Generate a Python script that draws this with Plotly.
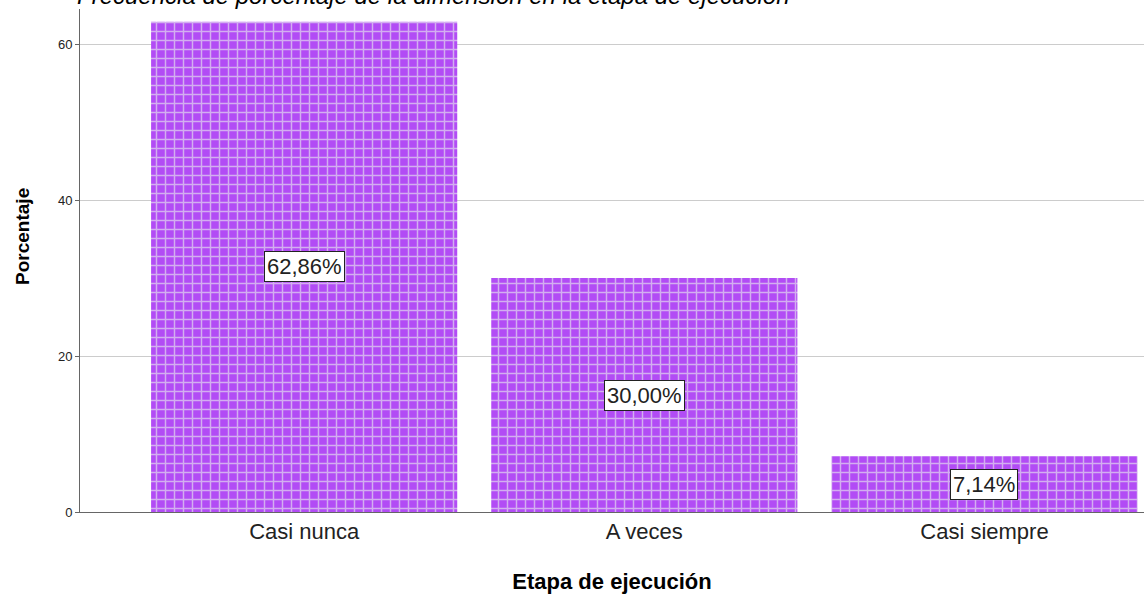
import plotly.graph_objects as go

categorias = ["Casi nunca", "A veces", "Casi siempre"]
porcentajes = [62.86, 30.00, 7.14]
etiquetas = ["62,86%", "30,00%", "7,14%"]
ticks_y = [0, 20, 40, 60]

fuente = "Liberation Sans, Arial, sans-serif"

fig = go.Figure()
fig.add_trace(go.Bar(
    x=categorias,
    y=porcentajes,
    width=0.9,
    marker=dict(
        color="#b24cf5",
        line=dict(width=0),
        pattern=dict(shape="+", size=9, solidity=0.3,
                     fgcolor="#d3aef0", bgcolor="#b24cf5", fillmode="replace"),
    ),
    hoverinfo="skip",
))

for cat, val, lab in zip(categorias, porcentajes, etiquetas):
    fig.add_annotation(x=cat, y=val / 2, text=lab, showarrow=False,
                       font=dict(family=fuente, size=22, color="#222222"),
                       bgcolor="white", bordercolor="#222222", borderwidth=1, borderpad=2)

# titulo recortado por el borde superior
fig.add_annotation(xref="paper", yref="paper", x=-0.005, y=1, xanchor="left", yanchor="bottom",
                   yshift=-2, showarrow=False,
                   text="<i>Frecuencia de porcentaje de la dimensión en la etapa de ejecución</i>",
                   font=dict(family=fuente, size=24, color="black"))

# titulo del eje y
fig.add_annotation(xref="paper", yref="paper", x=-0.0535, y=0.547, xanchor="center", yanchor="middle",
                   textangle=-90, showarrow=False, text="<b>Porcentaje</b>",
                   font=dict(family=fuente, size=19, color="black"))

fig.update_layout(
    width=1144, height=594,
    margin=dict(l=80, r=0, t=9, b=82),
    paper_bgcolor="white", plot_bgcolor="white",
    showlegend=False,
    font=dict(family=fuente),
    xaxis=dict(range=[-0.659, 2.469], showline=True, linecolor="#666666", linewidth=1,
               ticks="", tickfont=dict(size=22, color="#222222"),
               title=dict(text="<b>Etapa de ejecución</b>", font=dict(size=22, color="black"), standoff=30)),
    yaxis=dict(range=[0, 64.5], tickvals=ticks_y, showline=True, linecolor="#666666", linewidth=1,
               showgrid=True, gridcolor="#cccccc", zeroline=False, ticks="outside", ticklen=4,
               tickcolor="#666666", tickfont=dict(size=13, color="#222222")),
)

fig.write_html("out.html", config={"displayModeBar": False},
               post_script="document.body.style.margin='0';")
